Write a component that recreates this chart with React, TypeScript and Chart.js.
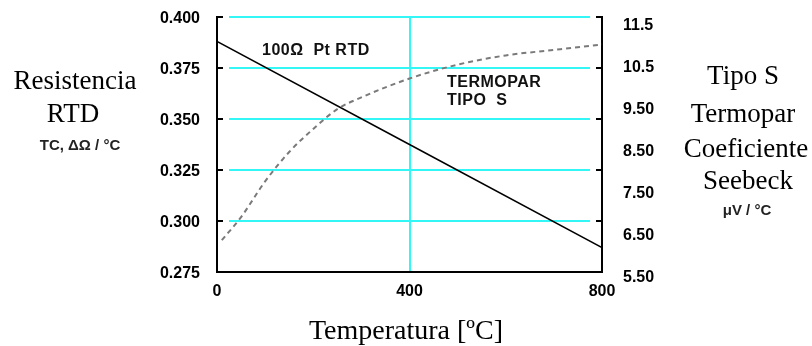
import React, { useEffect, useRef } from "react";
import { Chart, registerables } from "chart.js";

Chart.register(...registerables);

// ---- data ----
const xTicks = [0, 400, 800];
const leftTicks = [0.4, 0.375, 0.35, 0.325, 0.3, 0.275];
const rightTickValues = [11.5, 10.5, 9.5, 8.5, 7.5, 6.5, 5.5];
const rightTickLabels = ["11.5", "10.5", "9.50", "8.50", "7.50", "6.50", "5.50"];

const rtdTemps = [0, 400, 800];
const rtdValues = [0.388, 0.3375, 0.287];

const tcTemps = [10, 50, 100, 150, 200, 250, 300, 400, 500, 600, 700, 800];
const tcValues = [6.4, 6.95, 7.8, 8.5, 9.05, 9.52, 9.8, 10.25, 10.58, 10.8, 10.93, 11.06];

const CYAN = "#33f7f7";
const TICK_FONT = { family: "'Liberation Sans', Arial, sans-serif", size: 16, weight: "bold" as const };

const customGrid = {
  id: "customGrid",
  beforeDatasetsDraw(chart: any) {
    const { ctx, chartArea } = chart;
    const ys = chart.scales.y;
    ctx.save();
    ctx.lineWidth = 2;
    ctx.strokeStyle = CYAN;
    ys.ticks.forEach((t: any) => {
      if (t.value <= ys.min + 1e-9) return;
      const py = Math.round(ys.getPixelForValue(t.value));
      ctx.beginPath();
      ctx.moveTo(chartArea.left + 12, py);
      ctx.lineTo(chartArea.right - 12, py);
      ctx.stroke();
    });
    ctx.strokeStyle = "#000";
    ys.ticks.forEach((t: any) => {
      const py = Math.round(ys.getPixelForValue(t.value));
      ctx.beginPath();
      ctx.moveTo(chartArea.left, py);
      ctx.lineTo(chartArea.left + 6, py);
      ctx.moveTo(chartArea.right - 6, py);
      ctx.lineTo(chartArea.right, py);
      ctx.stroke();
    });
    ctx.restore();
  },
};

function Label(props: { x: number; y: number; text: string; style: React.CSSProperties; align?: "center" | "left" }) {
  const { x, y, text, style, align = "center" } = props;
  return (
    <div
      style={{
        position: "absolute",
        left: x,
        top: y,
        transform: align === "center" ? "translate(-50%, -50%)" : "translate(0, -50%)",
        whiteSpace: "pre",
        lineHeight: 1,
        color: "#000",
        ...style,
      }}
    >
      {text}
    </div>
  );
}

const serif: React.CSSProperties = { fontFamily: "'Liberation Serif', 'Times New Roman', serif", fontSize: 27 };
const serifBig: React.CSSProperties = { fontFamily: "'Liberation Serif', 'Times New Roman', serif", fontSize: 28 };
const smallBold: React.CSSProperties = { fontFamily: "'Liberation Sans', Arial, sans-serif", fontSize: 15, fontWeight: "bold", color: "#222" };
const annot: React.CSSProperties = {
  fontFamily: "'Liberation Sans', Arial, sans-serif",
  fontSize: 16,
  fontWeight: "bold",
  color: "#111",
  letterSpacing: 0.5,
};

const noPad = (s: any) => {
  s.paddingTop = 0;
  s.paddingBottom = 0;
  s.paddingLeft = 0;
  s.paddingRight = 0;
};

export default function App() {
  const ref = useRef<HTMLCanvasElement | null>(null);

  useEffect(() => {
    if (!ref.current) return;
    const chart = new Chart(ref.current, {
      type: "line",
      data: {
        datasets: [
          {
            label: "Termopar Tipo S",
            data: tcTemps.map((t, i) => ({ x: t, y: tcValues[i] })),
            yAxisID: "y2",
            borderColor: "#7a7a7a",
            borderWidth: 2,
            borderDash: [5, 4],
            pointRadius: 0,
            cubicInterpolationMode: "monotone",
            fill: false,
          },
          {
            label: "100Ω Pt RTD",
            data: rtdTemps.map((t, i) => ({ x: t, y: rtdValues[i] })),
            yAxisID: "y",
            borderColor: "#000",
            borderWidth: 1.5,
            pointRadius: 0,
            tension: 0,
            fill: false,
          },
        ],
      },
      options: {
        responsive: false,
        animation: false,
        layout: { padding: { top: 17, left: 0, right: 0, bottom: 0 } },
        plugins: { legend: { display: false }, tooltip: { enabled: false } },
        scales: {
          x: {
            type: "linear",
            position: "bottom",
            min: 0,
            max: 800,
            afterBuildTicks: (s: any) => {
              s.ticks = xTicks.map((v) => ({ value: v }));
            },
            afterFit: (s: any) => {
              s.height = 74;
              noPad(s);
            },
            ticks: { font: TICK_FONT, color: "#000", padding: 10, autoSkip: false, maxRotation: 0 },
            grid: {
              drawTicks: false,
              lineWidth: 2,
              color: (c: any) => (c.tick && c.tick.value === 400 ? CYAN : "rgba(0,0,0,0)"),
            },
            border: { display: true, color: "#000", width: 2 },
          },
          y: {
            type: "linear",
            position: "left",
            min: 0.275,
            max: 0.4,
            afterBuildTicks: (s: any) => {
              s.ticks = leftTicks.map((v) => ({ value: v }));
            },
            afterFit: (s: any) => {
              s.width = 217;
              noPad(s);
            },
            ticks: {
              font: TICK_FONT,
              color: "#000",
              padding: 17,
              labelOffset: 2,
              autoSkip: false,
              callback: (v: any) => Number(v).toFixed(3),
            },
            grid: { drawOnChartArea: false, drawTicks: false },
            border: { display: true, color: "#000", width: 2 },
          },
          y2: {
            type: "linear",
            position: "right",
            min: 5.5 + 6 / 42,
            max: 5.5 + 261 / 42,
            afterBuildTicks: (s: any) => {
              s.ticks = rightTickValues.map((v) => ({ value: v }));
            },
            afterFit: (s: any) => {
              s.width = 210;
              noPad(s);
            },
            ticks: {
              font: TICK_FONT,
              color: "#000",
              padding: 21,
              autoSkip: false,
              callback: (v: any) => {
                const i = rightTickValues.findIndex((r) => Math.abs(r - Number(v)) < 1e-6);
                return i >= 0 ? rightTickLabels[i] : "";
              },
            },
            grid: { drawOnChartArea: false, drawTicks: false },
            border: { display: true, color: "#000", width: 2 },
          },
        },
      },
      plugins: [customGrid],
    } as any);
    return () => chart.destroy();
  }, []);

  return (
    <div style={{ position: "fixed", left: 0, top: 0, width: 812, height: 346, background: "#fff", overflow: "hidden" }}>
      <canvas ref={ref} width={812} height={346} style={{ display: "block", width: 812, height: 346 }} />
      <Label x={75} y={80} text="Resistencia" style={serif} />
      <Label x={73} y={113} text="RTD" style={serif} />
      <Label x={80} y={144} text="TC, ΔΩ / °C" style={smallBold} />
      <Label x={743} y={75} text="Tipo S" style={serif} />
      <Label x={743} y={113} text="Termopar" style={serif} />
      <Label x={746} y={148} text="Coeficiente" style={serif} />
      <Label x={748} y={180} text="Seebeck" style={serif} />
      <Label x={747} y={209} text="μV / °C" style={smallBold} />
      <Label x={406} y={330} text="Temperatura [ºC]" style={serifBig} />
      <Label x={262} y={50} text={"100Ω  Pt RTD"} style={annot} align="left" />
      <Label x={447} y={82} text="TERMOPAR" style={annot} align="left" />
      <Label x={447} y={100} text={"TIPO  S"} style={annot} align="left" />
    </div>
  );
}
